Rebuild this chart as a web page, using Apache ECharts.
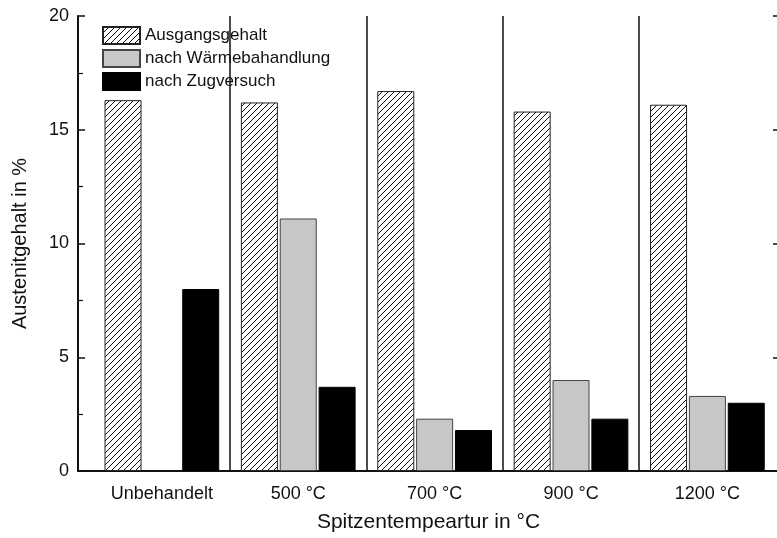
<!DOCTYPE html>
<html>
<head>
<meta charset="utf-8">
<script src="https://cdn.jsdelivr.net/npm/echarts@6/dist/echarts.min.js"></script>
<style>
  html, body { margin: 0; padding: 0; background: #fff; overflow: hidden; }
  #chart { width: 780px; height: 538px; }
</style>
</head>
<body>
<div id="chart"></div>
<script>
const categories = ['Unbehandelt', '500 °C', '700 °C', '900 °C', '1200 °C'];
const positions = [1, 2, 3, 4, 5];
const separators = [1.5, 2.5, 3.5, 4.5];
const ausgangsgehalt = [16.3, 16.2, 16.7, 15.8, 16.1];
const nachWaerme = [null, 11.1, 2.3, 4.0, 3.3];
const nachZug = [8.0, 3.7, 1.8, 2.3, 3.0];

// hatch pattern for Ausgangsgehalt
function makeHatch() {
  const c = document.createElement('canvas');
  c.width = 6;
  c.height = 6;
  const ctx = c.getContext('2d');
  ctx.fillStyle = '#fff';
  ctx.fillRect(0, 0, 6, 6);
  ctx.strokeStyle = '#111';
  ctx.lineWidth = 1;
  ctx.beginPath();
  ctx.moveTo(-1, 7); ctx.lineTo(7, -1);
  ctx.moveTo(-1, 1); ctx.lineTo(1, -1);
  ctx.moveTo(5, 7); ctx.lineTo(7, 5);
  ctx.stroke();
  return c;
}
const hatch = { image: makeHatch(), repeat: 'repeat' };

const font = 'Liberation Sans, Arial, sans-serif';
const pair = (vals) => positions.map((p, i) => [p, vals[i] == null ? '-' : vals[i]]);
const xMin = 0.385, xMax = 5.525;

const chart = echarts.init(document.getElementById('chart'), null, { renderer: 'canvas' });

chart.setOption({
  animation: false,
  textStyle: { fontFamily: font },
  grid: { left: 78, top: 16, right: 1, bottom: 67 },
  legend: {
    left: 99,
    top: 22,
    orient: 'vertical',
    icon: 'rect',
    itemWidth: 37,
    itemHeight: 17,
    itemGap: 4,
    padding: [4, 6, 2, 3],
    backgroundColor: '#fff',
    textStyle: { fontFamily: font, fontSize: 17, lineHeight: 17, color: '#111' },
    data: ['Ausgangsgehalt', 'nach Wärmebahandlung', 'nach Zugversuch']
  },
  xAxis: [{
    type: 'value',
    min: xMin,
    max: xMax,
    name: 'Spitzentempeartur in °C',
    nameLocation: 'middle',
    nameGap: 41,
    nameTextStyle: { fontFamily: font, fontSize: 21, color: '#111' },
    axisLine: { lineStyle: { color: '#111', width: 2 } },
    axisTick: { show: false },
    splitLine: { show: false },
    axisLabel: {
      customValues: positions,
      fontFamily: font,
      fontSize: 18,
      color: '#111',
      margin: 14,
      formatter: (v) => categories[Math.round(v) - 1] || ''
    }
  }, {
    type: 'value',
    position: 'top',
    min: xMin,
    max: xMax,
    axisLine: { show: true, lineStyle: { color: '#111', width: 2 } },
    axisTick: { show: false },
    axisLabel: { show: false },
    splitLine: { show: false }
  }],
  yAxis: [{
    type: 'value',
    min: 0,
    max: 20,
    interval: 5,
    name: 'Austenitgehalt in %',
    nameLocation: 'middle',
    nameGap: 48,
    nameTextStyle: { fontFamily: font, fontSize: 20, color: '#111' },
    axisLine: { show: true, lineStyle: { color: '#111', width: 2 } },
    axisTick: { show: true, inside: true, length: 7, lineStyle: { color: '#111', width: 1.5 } },
    minorTick: { show: true, splitNumber: 2, length: 5, lineStyle: { color: '#111', width: 1.2 } },
    axisLabel: { fontFamily: font, fontSize: 18, color: '#111', margin: 9 },
    splitLine: { show: false }
  }, {
    type: 'value',
    position: 'right',
    min: 0,
    max: 20,
    interval: 5,
    axisLine: { show: true, lineStyle: { color: '#111', width: 2 } },
    axisTick: { show: true, inside: true, length: 6, lineStyle: { color: '#111', width: 1.5 } },
    axisLabel: { show: false },
    splitLine: { show: false }
  }],
  series: [{
    name: 'Ausgangsgehalt',
    type: 'bar',
    barWidth: 37,
    barGap: '5%',
    data: pair(ausgangsgehalt),
    itemStyle: { color: hatch, borderColor: '#222', borderWidth: 1 }
  }, {
    name: 'nach Wärmebahandlung',
    type: 'bar',
    barWidth: 37,
    barGap: '5%',
    data: pair(nachWaerme),
    itemStyle: { color: '#c6c7c9', borderColor: '#444', borderWidth: 1 }
  }, {
    name: 'nach Zugversuch',
    type: 'bar',
    barWidth: 37,
    barGap: '5%',
    data: pair(nachZug),
    itemStyle: { color: '#000', borderColor: '#000', borderWidth: 1 }
  }, {
    // separators between groups
    name: 'separators',
    type: 'line',
    data: [],
    markLine: {
      silent: true,
      symbol: 'none',
      label: { show: false },
      lineStyle: { color: '#111', type: 'solid', width: 1.5 },
      data: separators.map((v) => ({ xAxis: v }))
    }
  }]
});
</script>
</body>
</html>
